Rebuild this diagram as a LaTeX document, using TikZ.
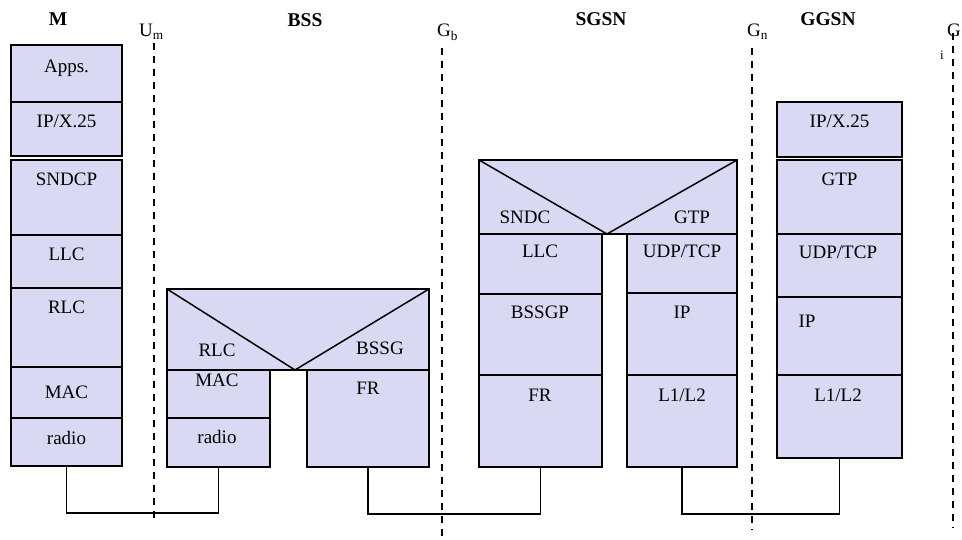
\documentclass[tikz,border=0pt]{standalone}
\usepackage{fontspec}
\setmainfont{Liberation Serif}
\definecolor{stackfill}{RGB}{217,217,243}

\begin{document}
\begin{tikzpicture}[x=1pt, y=-1pt,
    every node/.style={font=\fontsize{19pt}{22pt}\selectfont},
    layer/.style={draw=black, fill=stackfill, line width=1.6pt, inner sep=0pt, outer sep=0pt, anchor=north west},
    lbl/.style={anchor=base, inner sep=0pt},
    title/.style={anchor=base, inner sep=0pt, font=\fontsize{19.5pt}{22pt}\selectfont\bfseries},
    iface/.style={black, line width=1.5pt, dash pattern=on 7pt off 6pt},
    link/.style={black, line width=1.5pt}]
    \useasboundingbox (0,0) rectangle (962,540);

    % Titles
    \node[title] (tm) at (58,26) {M};
    \node[title] (tbss) at (305,27) {BSS};
    \node[title] (tsgsn) at (601,26) {SGSN};
    \node[title] (tggsn) at (828,26) {GGSN};

    % Interfaces
    \node[lbl, anchor=base west] (lum) at (139,37) {U\textsubscript{m}};
    \node[lbl, anchor=base west] (lgb) at (437,37) {G\textsubscript{b}};
    \node[lbl, anchor=base west] (lgn) at (747,37) {G\textsubscript{n}};
    \node[lbl, anchor=base west] (lgi) at (947,37) {G};
    \node[lbl, font=\fontsize{13pt}{14pt}\selectfont] (lgii) at (942,60) {i};
    \coordinate (umtop) at (154,43);  \coordinate (umbot) at (154,522);
    \coordinate (gbtop) at (442,48);  \coordinate (gbbot) at (442,540);
    \coordinate (gntop) at (752,48);  \coordinate (gnbot) at (752,530);
    \coordinate (gitop) at (953,33);  \coordinate (gibot) at (953,528);
    \draw[iface] (umtop) -- (umbot);
    \draw[iface] (gbtop) -- (gbbot);
    \draw[iface] (gntop) -- (gnbot);
    \draw[iface] (gitop) -- (gibot);

    % Mobile station stack
    \node[layer, minimum width=111pt, minimum height=57pt] (mapps) at (11,45) {};
    \node[layer, minimum width=111pt, minimum height=54pt] (mip) at (11,102) {};
    \node[layer, minimum width=111pt, minimum height=75pt] (msndcp) at (11,160) {};
    \node[layer, minimum width=111pt, minimum height=53pt] (mllc) at (11,235) {};
    \node[layer, minimum width=111pt, minimum height=79pt] (mrlc) at (11,288) {};
    \node[layer, minimum width=111pt, minimum height=51pt] (mmac) at (11,367) {};
    \node[layer, minimum width=111pt, minimum height=48pt] (mradio) at (11,418) {};
    \node[lbl] (mappsT) at (66.5,73) {Apps.};
    \node[lbl] (mipT) at (66.5,128) {IP/X.25};
    \node[lbl] (msndcpT) at (66.5,186) {SNDCP};
    \node[lbl] (mllcT) at (66.5,261) {LLC};
    \node[lbl] (mrlcT) at (66.5,314) {RLC};
    \node[lbl] (mmacT) at (66.5,398) {MAC};
    \node[lbl] (mradioT) at (66.5,444) {radio};

    % BSS stack
    \node[layer, minimum width=262pt, minimum height=81pt] (btop) at (167,289) {};
    \coordinate (bapex) at (295,370);
    \draw[link] (btop.north west) -- (bapex) -- (btop.north east);
    \node[layer, minimum width=103pt, minimum height=48pt] (bmac) at (167,370) {};
    \node[layer, minimum width=103pt, minimum height=49pt] (bradio) at (167,418) {};
    \node[layer, minimum width=122pt, minimum height=97pt] (bfr) at (307,370) {};
    \node[lbl] (brlcT) at (217,356) {RLC};
    \node[lbl] (bbssgT) at (380,354) {BSSG};
    \node[lbl] (bmacT) at (217,386) {MAC};
    \node[lbl] (bradioT) at (217,443) {radio};
    \node[lbl] (bfrT) at (368,394) {FR};

    % SGSN stack
    \node[layer, minimum width=258pt, minimum height=74pt] (stop) at (479,160) {};
    \coordinate (sapex) at (607,234);
    \draw[link] (stop.north west) -- (sapex) -- (stop.north east);
    \node[layer, minimum width=123pt, minimum height=60pt] (sllc) at (479,234) {};
    \node[layer, minimum width=123pt, minimum height=81pt] (sbssgp) at (479,294) {};
    \node[layer, minimum width=123pt, minimum height=92pt] (sfr) at (479,375) {};
    \node[layer, minimum width=110pt, minimum height=59pt] (sudp) at (627,234) {};
    \node[layer, minimum width=110pt, minimum height=82pt] (sip) at (627,293) {};
    \node[layer, minimum width=110pt, minimum height=92pt] (sl12) at (627,375) {};
    \node[lbl] (ssndcT) at (525,224) {SNDC};
    \node[lbl] (sgtpT) at (692,224) {GTP};
    \node[lbl] (sllcT) at (540,258) {LLC};
    \node[lbl] (sbssgpT) at (540,319) {BSSGP};
    \node[lbl] (sfrT) at (540,401) {FR};
    \node[lbl] (sudpT) at (682,258) {UDP/TCP};
    \node[lbl] (sipT) at (682,319) {IP};
    \node[lbl] (sl12T) at (682,401) {L1/L2};

    % GGSN stack
    \node[layer, minimum width=125pt, minimum height=55pt] (gip) at (777,102) {};
    \node[layer, minimum width=125pt, minimum height=74pt] (ggtp) at (777,160) {};
    \node[layer, minimum width=125pt, minimum height=63pt] (gudp) at (777,234) {};
    \node[layer, minimum width=125pt, minimum height=78pt] (gipl) at (777,297) {};
    \node[layer, minimum width=125pt, minimum height=83pt] (gl12) at (777,375) {};
    \node[lbl] (gipT) at (839.5,128) {IP/X.25};
    \node[lbl] (ggtpT) at (839.5,186) {GTP};
    \node[lbl] (gudpT) at (838,259) {UDP/TCP};
    \node[lbl] (giplT) at (807,327) {IP};
    \node[lbl] (gl12T) at (838,401) {L1/L2};

    % Physical links
    \draw[link] (mradio.south) -- ++(0,47) -| (bradio.south);
    \draw[link] (bfr.south) -- ++(0,47) -| (sfr.south);
    \draw[link] (sl12.south) -- ++(0,47) -| (gl12.south);
\end{tikzpicture}
\end{document}
